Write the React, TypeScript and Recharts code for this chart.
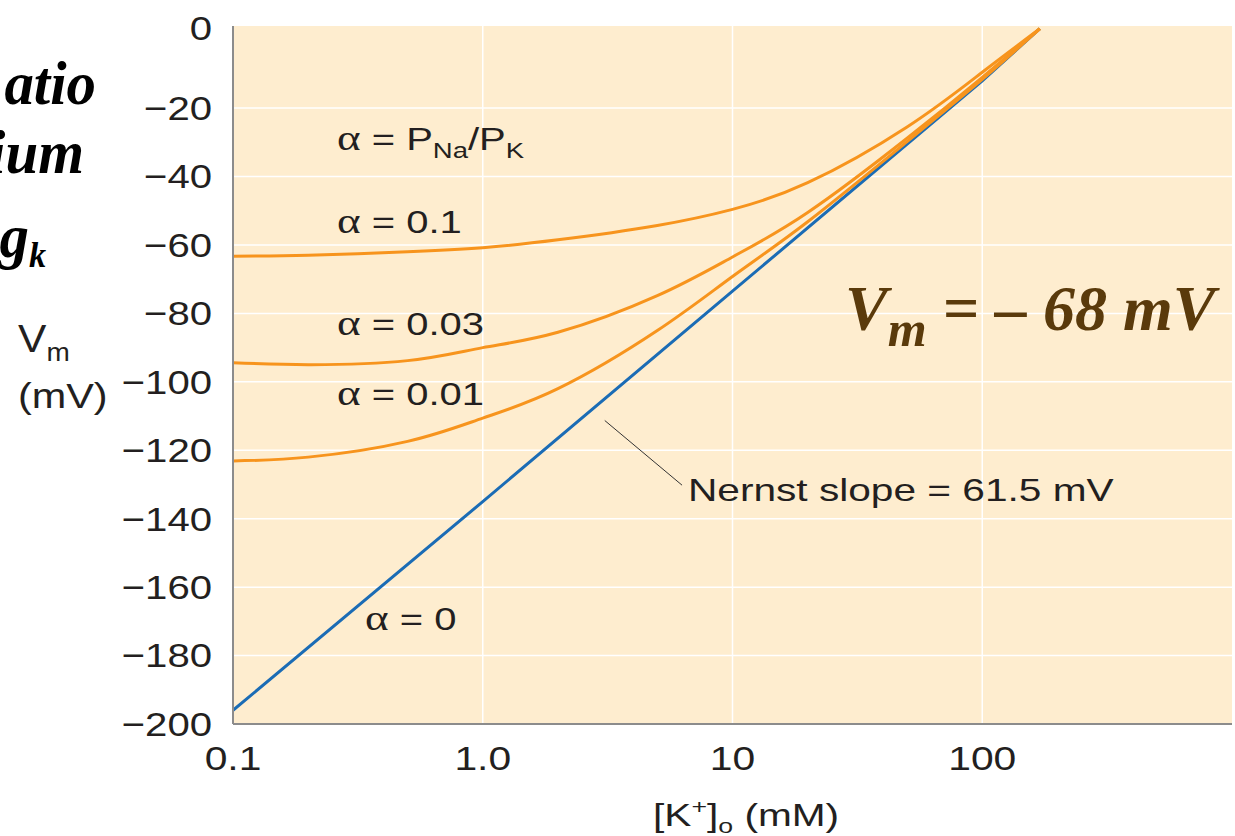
import React from 'react';
import { LineChart, Line, XAxis, YAxis, CartesianGrid, ReferenceLine } from 'recharts';

// [K+]o sample points (mM)
const K_POINTS = [0.1, 0.2, 0.5, 1, 2, 5, 10, 20, 50, 100, 170];
const K_NERNST = [0.1, 1, 10, 100, 170];

// membrane potential (mV) for each alpha = PNa/PK
const V_ALPHA_01 = [-63.3, -63.0, -62.0, -60.8, -58.5, -54.3, -49.6, -41.8, -25.5, -9.5, 3.2];
const V_ALPHA_003 = [-94.4, -95.0, -93.8, -90.0, -85.5, -74.8, -63.5, -50.5, -28.8, -11.0, 3.2];
const V_ALPHA_001 = [-123.1, -122.0, -117.4, -110.6, -102.0, -85.0, -69.2, -53.2, -29.8, -11.6, 3.2];
const V_ALPHA_0 = [-196, -135, -73.5, -12, 3.2];

const X_TICKS = [0.1, 1, 10, 100];
const X_TICK_LABELS = ['0.1', '1.0', '10', '100'];
const Y_TICKS = [0, -20, -40, -60, -80, -100, -120, -140, -160, -180, -200];
const GRID_Y = [-20, -40, -60, -80, -100, -120, -140, -160, -180];
const GRID_X = [1, 10, 100];

// leader line from the Nernst label to the blue line
const LEADER = [{ x: 3.08, y: -111.3 }, { x: 6.28, y: -130.2 }];

const zip = (ks: number[], vs: number[]) => ks.map((k, i) => ({ k, v: vs[i] }));

const SANS = "'Liberation Sans', Arial, Helvetica, sans-serif";
const SERIF = "'Liberation Serif', 'Times New Roman', serif";
const SX = 1.25;
const ORANGE = '#F7941D';
const BLUE = '#1B6CB5';
const INK = '#231F20';

const SText = ({ x, y, size = 32, sx = SX, anchor = 'start', family = SANS, weight, style, fill = INK, baseline, children }: any) => (
  <text
    transform={`translate(${x},${y}) scale(${sx},1)`}
    textAnchor={anchor}
    fontFamily={family}
    fontSize={size}
    fontWeight={weight}
    fontStyle={style}
    fill={fill}
    dominantBaseline={baseline}
  >
    {children}
  </text>
);

const XTick = (props: any) => {
  const { x, y, payload } = props;
  const i = X_TICKS.indexOf(payload.value);
  return (
    <SText x={x} y={y} size={34} sx={1.2} anchor="middle" baseline="central">
      {X_TICK_LABELS[i] ?? String(payload.value)}
    </SText>
  );
};

const YTick = (props: any) => {
  const { x, y, payload } = props;
  const v = payload.value as number;
  const label = v === 0 ? '0' : '\u2212' + Math.abs(v);
  return (
    <SText x={x} y={v === 0 ? 28 : y} size={34} sx={1.18} anchor="end" baseline="central">
      {label}
    </SText>
  );
};

const Alpha = ({ x, y, rest }: { x: number; y: number; rest: string }) => (
  <SText x={x} y={y} size={32}>
    <tspan fontFamily={SERIF} fontSize={36}>α</tspan>
    <tspan>{' = ' + rest}</tspan>
  </SText>
);

// bold italic slide text that runs off the left edge
const SlideText = ({ x, y, children }: any) => (
  <SText x={x} y={y} size={62} sx={0.95} anchor="end" family={SERIF} weight="bold" style="italic" fill="#000">
    {children}
  </SText>
);

export default function App() {
  return (
    <div style={{ position: 'relative', width: 1235, height: 836, overflow: 'hidden' }}>
      <style>{'body{margin:0}'}</style>
      <LineChart width={1235} height={836} margin={{ top: 26, right: 3, bottom: 0, left: 0 }}>
        <CartesianGrid
          fill="#FEEDCF"
          stroke="#FFFFFF"
          strokeWidth={1.5}
          horizontalValues={GRID_Y}
          verticalValues={GRID_X}
        />
        <XAxis
          type="number"
          dataKey="k"
          scale="log"
          domain={[0.1, 1000]}
          ticks={X_TICKS}
          interval={0}
          allowDataOverflow
          height={112}
          tickLine={false}
          tickSize={34}
          tickMargin={0}
          axisLine={{ stroke: '#8C8C8C', strokeWidth: 2 }}
          tick={<XTick />}
        />
        <YAxis
          type="number"
          dataKey="v"
          domain={[-200, 4]}
          ticks={Y_TICKS}
          interval={0}
          allowDataOverflow
          width={233}
          tickLine={false}
          tickSize={21}
          tickMargin={0}
          axisLine={{ stroke: '#8C8C8C', strokeWidth: 2 }}
          tick={<YTick />}
        />
        <ReferenceLine segment={LEADER} stroke="#333333" strokeWidth={1} />
        <Line data={zip(K_NERNST, V_ALPHA_0)} dataKey="v" type="linear" stroke={BLUE} strokeWidth={3} dot={false} isAnimationActive={false} />
        <Line data={zip(K_POINTS, V_ALPHA_001)} dataKey="v" type="natural" stroke={ORANGE} strokeWidth={3} dot={false} isAnimationActive={false} />
        <Line data={zip(K_POINTS, V_ALPHA_003)} dataKey="v" type="natural" stroke={ORANGE} strokeWidth={3} dot={false} isAnimationActive={false} />
        <Line data={zip(K_POINTS, V_ALPHA_01)} dataKey="v" type="natural" stroke={ORANGE} strokeWidth={3} dot={false} isAnimationActive={false} />
      </LineChart>

      <svg width={1235} height={836} style={{ position: 'absolute', left: 0, top: 0, pointerEvents: 'none' }}>
        <SlideText x={96} y={104}>atio</SlideText>
        <SlideText x={84} y={173}>ium</SlideText>
        <SlideText x={46} y={257}>
          g<tspan fontSize={36} dy={10}>k</tspan>
        </SlideText>

        {/* y axis title */}
        <SText x={18} y={352} size={38} sx={1.12}>
          V<tspan fontSize={25} dy={9}>m</tspan>
        </SText>
        <SText x={18} y={408} size={36} sx={1.15}>(mV)</SText>

        {/* x axis title */}
        <SText x={653} y={826} size={32} sx={1.27}>
          [K<tspan fontSize={21} dy={-12}>+</tspan>
          <tspan dy={12}>]</tspan>
          <tspan fontSize={21} dy={7}>o</tspan>
          <tspan dy={-7}> (mM)</tspan>
        </SText>

        {/* curve labels */}
        <SText x={337} y={150} size={32}>
          <tspan fontFamily={SERIF} fontSize={36}>α</tspan>
          <tspan> = P</tspan>
          <tspan fontSize={22} dy={8}>Na</tspan>
          <tspan dy={-8}>/P</tspan>
          <tspan fontSize={22} dy={8}>K</tspan>
        </SText>
        <Alpha x={337} y={233} rest="0.1" />
        <Alpha x={337} y={335} rest="0.03" />
        <Alpha x={337} y={405} rest="0.01" />
        <Alpha x={365} y={630} rest="0" />
        <SText x={688} y={501} size={32} sx={1.27}>Nernst slope = 61.5 mV</SText>

        <text x={845} y={330} fontFamily={SERIF} fontSize={64} fontWeight="bold" fontStyle="italic" fill="#5A3A0B">
          V<tspan fontSize={50} dy={16}>m</tspan>
          <tspan dy={-16}> = – 68 mV</tspan>
        </text>
      </svg>
    </div>
  );
}
